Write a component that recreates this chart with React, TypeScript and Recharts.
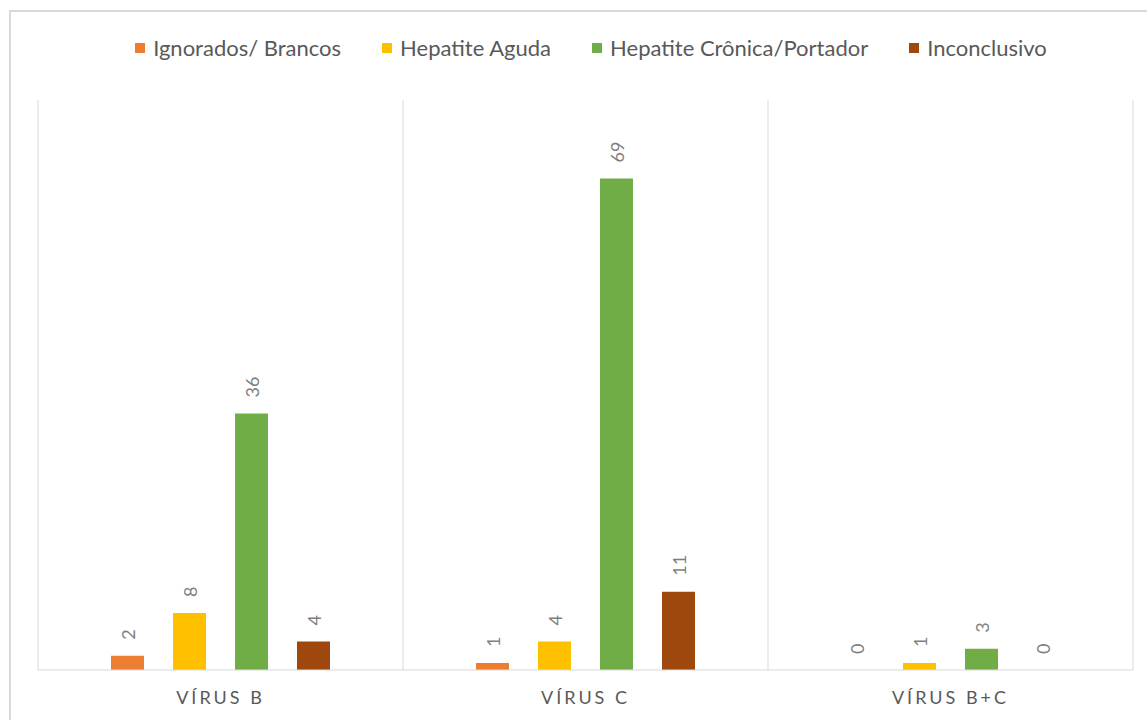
import React from 'react';
import { BarChart, Bar, XAxis, YAxis, CartesianGrid, LabelList } from 'recharts';

const categories = ['VÍRUS B', 'VÍRUS C', 'VÍRUS B+C'];
const ignorados = [2, 1, 0];
const aguda = [8, 4, 1];
const cronica = [36, 69, 3];
const inconclusivo = [4, 11, 0];

const seriesNames = ['Ignorados/ Brancos', 'Hepatite Aguda', 'Hepatite Crônica/Portador', 'Inconclusivo'];
const seriesKeys = ['ignorados', 'aguda', 'cronica', 'inconclusivo'];
const seriesColors = ['#ED7D31', '#FFC000', '#70AD47', '#9E480E'];

const data = categories.map((c, i) => ({
  name: c,
  ignorados: ignorados[i],
  aguda: aguda[i],
  cronica: cronica[i],
  inconclusivo: inconclusivo[i],
}));

const FONT = "Lato, 'Open Sans', sans-serif";

const renderLabel = (props: any) => {
  const { x, y, width, height, value } = props;
  const cx = Number(x) + Number(width) / 2;
  const top = Math.min(Number(y), Number(y) + Number(height || 0));
  const ty = top - 16;
  return (
    <text
      x={cx}
      y={ty}
      transform={`rotate(-90, ${cx}, ${ty})`}
      textAnchor="start"
      dominantBaseline="central"
      fill="#7f7f7f"
      fontSize={18}
      fontFamily={FONT}
    >
      {String(value)}
    </text>
  );
};

const renderTick = (props: any) => {
  const { x, y, payload } = props;
  return (
    <text
      x={x}
      y={y + 19}
      textAnchor="middle"
      dominantBaseline="central"
      fill="#595959"
      fontSize={18}
      fontFamily={FONT}
      letterSpacing={3}
    >
      {payload.value}
    </text>
  );
};

function ChartLegend() {
  return (
    <div
      style={{
        position: 'absolute',
        left: 0,
        top: 34,
        width: 1182,
        display: 'flex',
        justifyContent: 'center',
        alignItems: 'center',
        fontFamily: FONT,
        fontSize: 22,
        lineHeight: '28px',
        color: '#595959',
        gap: 41,
      }}
    >
      {seriesNames.map((n, i) => (
        <div key={n} style={{ display: 'flex', alignItems: 'center' }}>
          <span style={{ width: 10, height: 10, background: seriesColors[i], display: 'inline-block', marginRight: 8 }} />
          <span>{n}</span>
        </div>
      ))}
    </div>
  );
}

export default function App() {
  return (
    <div style={{ position: 'absolute', left: 0, top: 0, width: 1147, height: 720, overflow: 'hidden', background: '#fff' }}>
      <div
        style={{
          position: 'absolute',
          left: 9,
          top: 10,
          width: 1160,
          height: 740,
          border: '2px solid #d9d9d9',
          boxSizing: 'border-box',
        }}
      />
      <ChartLegend />
      <div style={{ position: 'absolute', left: 0, top: 0 }}>
        <BarChart
          width={1147}
          height={720}
          data={data}
          margin={{ top: 100, right: 14, bottom: 0, left: 38 }}
          barCategoryGap={72}
          barGap={29}
          barSize={33}
        >
          <CartesianGrid
            horizontal={false}
            stroke="#d9d9d9"
            verticalCoordinatesGenerator={({ offset }: any) => [
              offset.left,
              offset.left + offset.width / 3,
              offset.left + (2 * offset.width) / 3,
              offset.left + offset.width,
            ]}
          />
          <XAxis
            dataKey="name"
            height={50}
            axisLine={{ stroke: '#d9d9d9' }}
            tickLine={false}
            tick={renderTick}
            interval={0}
          />
          <YAxis hide domain={[0, 80]} />
          {seriesKeys.map((k, i) => (
            <Bar
              key={k}
              dataKey={k}
              name={seriesNames[i]}
              fill={seriesColors[i]}
              minPointSize={0.01}
              isAnimationActive={false}
            >
              <LabelList dataKey={k} content={renderLabel} />
            </Bar>
          ))}
        </BarChart>
      </div>
    </div>
  );
}
